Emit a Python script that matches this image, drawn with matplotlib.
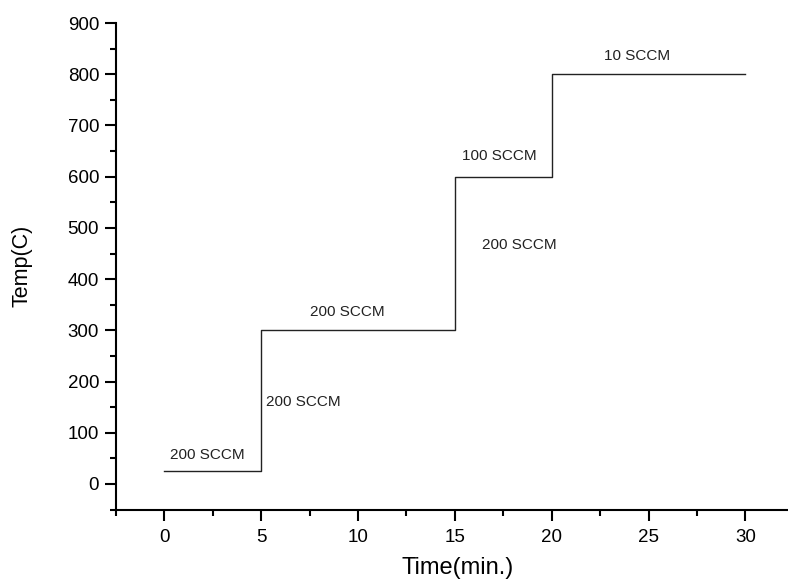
import matplotlib
matplotlib.use("Agg")
import matplotlib.pyplot as plt
from matplotlib.ticker import MultipleLocator

plt.rcParams['font.family'] = ['Liberation Sans', 'DejaVu Sans']

# step profile: temperature held over each time interval
time = [0, 5, 5, 15, 15, 20, 20, 30]
temp = [25, 25, 300, 300, 600, 600, 800, 800]

# flow-rate annotations (x, y of left edge, text)
label_x = [0.3, 5.25, 7.5, 15.35, 16.4, 22.7]
label_y = [57, 160, 336, 640, 467, 836]
label_txt = ['200 SCCM', '200 SCCM', '200 SCCM', '100 SCCM', '200 SCCM', '10 SCCM']

fig = plt.figure(figsize=(7.88, 5.8), dpi=100)
ax = fig.add_axes([0.147, 0.1214, 0.853, 0.8389])

ax.plot(time, temp, color='#222222', lw=1.0)

for x, y, t in zip(label_x, label_y, label_txt):
    ax.text(x, y, t, fontsize=11, va='center', ha='left', color='#222222')

ax.set_xlim(-2.5, 32.2)
ax.set_ylim(-50, 900)
ax.xaxis.set_major_locator(MultipleLocator(5))
ax.xaxis.set_minor_locator(MultipleLocator(2.5))
ax.yaxis.set_major_locator(MultipleLocator(100))
ax.yaxis.set_minor_locator(MultipleLocator(50))

ax.spines['top'].set_visible(False)
ax.spines['right'].set_visible(False)
for s in ['left', 'bottom']:
    ax.spines[s].set_linewidth(1.5)

ax.tick_params(which='major', direction='out', length=8, width=1.5, labelsize=13.5)
ax.tick_params(axis='x', which='major', pad=6)
ax.tick_params(axis='y', which='major', pad=4)
ax.tick_params(which='minor', direction='out', length=4.5, width=1.5)

ax.set_xlabel('Time(min.)', fontsize=17, va='center')
ax.set_ylabel('Temp(C)', fontsize=15.5, va='center')
ax.xaxis.set_label_coords(0.508, -0.12)
ax.yaxis.set_label_coords(-0.14, 0.5)

fig.savefig('out.png', dpi=100)
